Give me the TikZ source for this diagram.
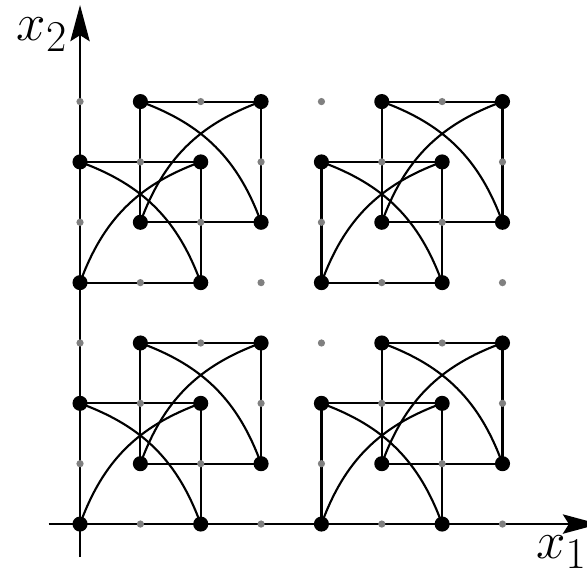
\documentclass[tikz,border=0pt]{standalone}
\usepackage{tikz}
\usetikzlibrary{arrows.meta, backgrounds}

\tikzset{
    lattice/.style={circle, fill=gray, inner sep=0pt, minimum size=0.12cm},
    vertex/.style={circle, fill=black, inner sep=0pt, minimum size=0.25cm},
    edge/.style={line width=1pt},
    axis/.style={line width=1pt, -{Stealth[length=0.6cm, width=0.32cm, inset=0.1cm]}}
}

\begin{document}
\begin{tikzpicture}
        \useasboundingbox (-1.326,-0.795) rectangle (8.40,8.683);

        % Gray lattice points
        \foreach \i in {0,...,7}
            \foreach \j in {0,...,7}
                \node[lattice] (g\i\j) at (\i,\j) {};

        % Four blocks, each with two overlapping squares
        \foreach \b/\ox/\oy in {1/0/0, 2/4/0, 3/0/4, 4/4/4} {
            \node[vertex] (A\b) at (\ox,\oy) {};
            \node[vertex] (B\b) at (\ox+2,\oy) {};
            \node[vertex] (C\b) at (\ox+2,\oy+2) {};
            \node[vertex] (D\b) at (\ox,\oy+2) {};
            \node[vertex] (E\b) at (\ox+1,\oy+1) {};
            \node[vertex] (F\b) at (\ox+3,\oy+1) {};
            \node[vertex] (G\b) at (\ox+3,\oy+3) {};
            \node[vertex] (H\b) at (\ox+1,\oy+3) {};
        }

        % Axes
        \coordinate (x1s) at (-0.52,0);
        \coordinate (x1e) at (8.6,0);
        \coordinate (x2s) at (0,-0.55);
        \coordinate (x2e) at (0,8.6);
        \node[font=\Huge] (lx1) at (7.98,-0.47) {$x_1$};
        \node[font=\Huge] (lx2) at (-0.63,8.11) {$x_2$};

        \begin{scope}[on background layer]
            \draw[axis] (x1s) -- (x1e);
            \draw[axis] (x2s) -- (x2e);

            % Squares and arcs
            \foreach \b in {1,...,4} {
                \draw[edge] (A\b.center) -- (B\b.center) -- (C\b.center) -- (D\b.center) -- cycle;
                \draw[edge] (E\b.center) -- (F\b.center) -- (G\b.center) -- (H\b.center) -- cycle;
                \draw[edge] (A\b.center) to[bend left=25] (C\b.center);
                \draw[edge] (D\b.center) to[bend left=25] (B\b.center);
                \draw[edge] (E\b.center) to[bend left=25] (G\b.center);
                \draw[edge] (H\b.center) to[bend left=25] (F\b.center);
            }
        \end{scope}
    \end{tikzpicture}
\end{document}
